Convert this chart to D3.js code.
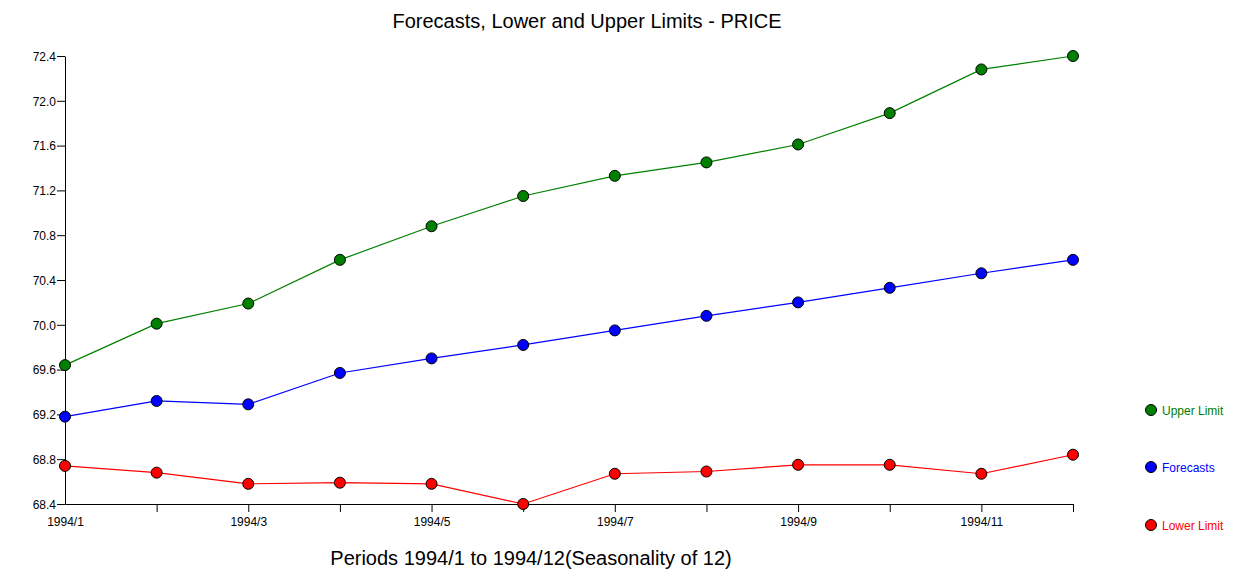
<!DOCTYPE html>
<html>
<head>
<meta charset="utf-8">
<script src="https://cdn.jsdelivr.net/npm/d3@7"></script>
<style>
  html, body { margin: 0; padding: 0; background: #fff; }
  svg { display: block; font-family: "Liberation Sans", Arial, sans-serif; }
</style>
</head>
<body>
<svg id="chart" width="1239" height="576"></svg>
<script>
const categories = ["1994/1","1994/2","1994/3","1994/4","1994/5","1994/6","1994/7","1994/8","1994/9","1994/10","1994/11","1994/12"];
const upperLimit = [69.64, 70.01, 70.19, 70.58, 70.88, 71.15, 71.33, 71.45, 71.61, 71.89, 72.28, 72.40];
const forecasts  = [69.18, 69.32, 69.29, 69.57, 69.70, 69.82, 69.95, 70.08, 70.20, 70.33, 70.46, 70.58];
const lowerLimit = [68.74, 68.68, 68.58, 68.59, 68.58, 68.40, 68.67, 68.69, 68.75, 68.75, 68.67, 68.84];
const yTicks = [68.4, 68.8, 69.2, 69.6, 70.0, 70.4, 70.8, 71.2, 71.6, 72.0, 72.4];
const xLabelTicks = ["1994/1","1994/3","1994/5","1994/7","1994/9","1994/11"];
const seriesNames = ["Upper Limit", "Forecasts", "Lower Limit"];
const seriesColors = ["#008000", "#0000ff", "#ff0000"];

const series = [
  {name: seriesNames[0], color: seriesColors[0], values: upperLimit},
  {name: seriesNames[1], color: seriesColors[1], values: forecasts},
  {name: seriesNames[2], color: seriesColors[2], values: lowerLimit}
];

const svg = d3.select("#chart");
const plotLeft = 65, plotRight = 1073, plotTop = 56, plotBottom = 504;

const x = d3.scalePoint().domain(categories).range([plotLeft, plotRight]);
const y = d3.scaleLinear().domain([68.4, 72.4]).range([plotBottom, plotTop]);

// Title
svg.append("text")
  .attr("x", 587).attr("y", 28)
  .attr("text-anchor", "middle")
  .attr("font-size", 20)
  .attr("fill", "#000")
  .text("Forecasts, Lower and Upper Limits - PRICE");

// X axis title
svg.append("text")
  .attr("x", 531).attr("y", 565)
  .attr("text-anchor", "middle")
  .attr("font-size", 20)
  .attr("fill", "#000")
  .text("Periods 1994/1 to 1994/12(Seasonality of 12)");

// Y axis
const yAxis = svg.append("g")
  .attr("transform", `translate(${plotLeft},0)`)
  .call(d3.axisLeft(y).tickValues(yTicks).tickFormat(d3.format(".1f")).tickSize(8).tickSizeOuter(0));
yAxis.select(".domain").attr("stroke", "#000");
yAxis.selectAll(".tick line").attr("stroke", "#000");
yAxis.selectAll(".tick text")
  .attr("font-size", 12).attr("fill", "#000")
  .attr("font-family", "Liberation Sans, Arial, sans-serif")
  .attr("x", -9).attr("dy", "0.35em");

// X axis
const xAxis = svg.append("g")
  .attr("transform", `translate(0,${plotBottom})`)
  .call(d3.axisBottom(x).tickSize(8).tickSizeOuter(0)
    .tickFormat(d => xLabelTicks.includes(d) ? d : ""));
xAxis.select(".domain").attr("stroke", "#000");
xAxis.selectAll(".tick line").attr("stroke", "#000");
xAxis.selectAll(".tick text")
  .attr("font-size", 12).attr("fill", "#000")
  .attr("font-family", "Liberation Sans, Arial, sans-serif")
  .attr("y", 13);
xAxis.selectAll(".tick").filter(d => d === categories[0]).select("line").remove();

// Lines and markers
const line = d3.line().x((d, i) => x(categories[i])).y(d => y(d));
series.forEach(s => {
  svg.append("path")
    .datum(s.values)
    .attr("fill", "none")
    .attr("stroke", s.color)
    .attr("stroke-width", 1.2)
    .attr("d", line);
});
series.forEach(s => {
  svg.append("g").selectAll("circle")
    .data(s.values)
    .join("circle")
    .attr("cx", (d, i) => x(categories[i]))
    .attr("cy", d => y(d))
    .attr("r", 5.5)
    .attr("fill", s.color)
    .attr("stroke", "#000")
    .attr("stroke-width", 1);
});

// Legend
const legendY = [410, 467, 525];
const legend = svg.append("g");
series.forEach((s, i) => {
  legend.append("circle")
    .attr("cx", 1151).attr("cy", legendY[i]).attr("r", 5.5)
    .attr("fill", s.color).attr("stroke", "#000").attr("stroke-width", 1);
  legend.append("text")
    .attr("x", 1162).attr("y", legendY[i] + 1).attr("dy", "0.35em")
    .attr("font-size", 12).attr("fill", s.color)
    .text(s.name);
});
</script>
</body>
</html>
